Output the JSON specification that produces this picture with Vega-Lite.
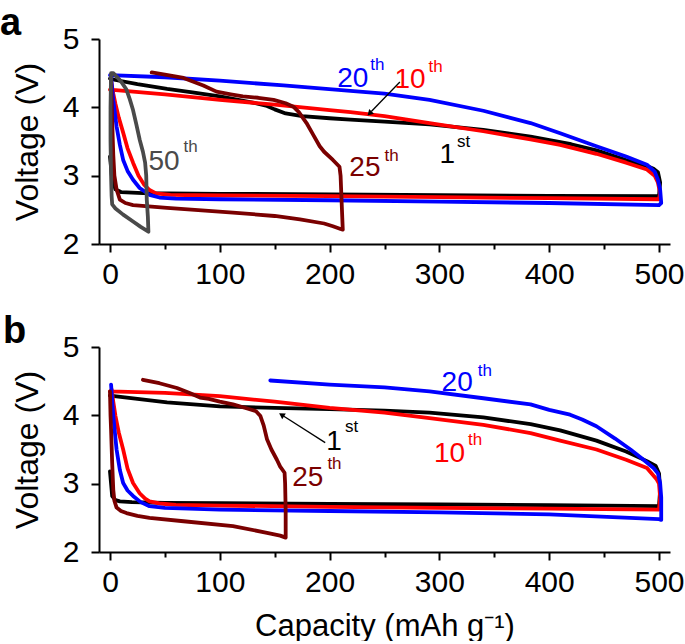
{
  "$schema": "https://vega.github.io/schema/vega-lite/v6.json",
  "background": "white",
  "padding": {"left": 0, "top": 5, "right": 0, "bottom": 0},
  "bounds": "flush",
  "spacing": 103,
  "config": {
    "view": {"stroke": null},
    "font": "Liberation Sans",
    "axis": {
      "grid": false, "domainColor": "black", "domainWidth": 2, "tickColor": "black", "tickWidth": 2,
      "labelFontSize": 30, "labelColor": "black", "labelFont": "Liberation Sans",
      "titleFontSize": 30, "titleFontWeight": "normal", "titleColor": "black", "titleFont": "Liberation Sans"
    }
  },
  "datasets": {
    "curvesA": [
      {"c":"1st","i":1,"x":0,"v":3.28},{"c":"1st","i":2,"x":2,"v":2.95},{"c":"1st","i":3,"x":5,"v":2.8},{"c":"1st","i":4,"x":10,"v":2.76},{"c":"1st","i":5,"x":30,"v":2.745},{"c":"1st","i":6,"x":100,"v":2.735},{"c":"1st","i":7,"x":200,"v":2.725},{"c":"1st","i":8,"x":300,"v":2.715},{"c":"1st","i":9,"x":400,"v":2.705},{"c":"1st","i":10,"x":500,"v":2.7},{"c":"1st","i":11,"x":501,"v":2.9},{"c":"1st","i":12,"x":499,"v":3.05},{"c":"1st","i":13,"x":495,"v":3.1},{"c":"1st","i":14,"x":489,"v":3.14},{"c":"1st","i":15,"x":470,"v":3.23},{"c":"1st","i":16,"x":443,"v":3.37},{"c":"1st","i":17,"x":420,"v":3.46},{"c":"1st","i":18,"x":383,"v":3.57},{"c":"1st","i":19,"x":340,"v":3.67},{"c":"1st","i":20,"x":291,"v":3.75},{"c":"1st","i":21,"x":250,"v":3.79},{"c":"1st","i":22,"x":219,"v":3.82},{"c":"1st","i":23,"x":200,"v":3.84},{"c":"1st","i":24,"x":175,"v":3.87},{"c":"1st","i":25,"x":160,"v":3.91},{"c":"1st","i":26,"x":150,"v":3.97},{"c":"1st","i":27,"x":143,"v":4.02},{"c":"1st","i":28,"x":130,"v":4.07},{"c":"1st","i":29,"x":100,"v":4.16},{"c":"1st","i":30,"x":75,"v":4.22},{"c":"1st","i":31,"x":52,"v":4.27},{"c":"1st","i":32,"x":25,"v":4.34},{"c":"1st","i":33,"x":5,"v":4.4},{"c":"1st","i":34,"x":0,"v":4.42},
      {"c":"10th","i":1,"x":1,"v":4.38},{"c":"10th","i":2,"x":3,"v":4.2},{"c":"10th","i":3,"x":5,"v":4.05},{"c":"10th","i":4,"x":8,"v":3.85},{"c":"10th","i":5,"x":12,"v":3.63},{"c":"10th","i":6,"x":16,"v":3.4},{"c":"10th","i":7,"x":21,"v":3.19},{"c":"10th","i":8,"x":26,"v":3.0},{"c":"10th","i":9,"x":31,"v":2.87},{"c":"10th","i":10,"x":36,"v":2.79},{"c":"10th","i":11,"x":42,"v":2.74},{"c":"10th","i":12,"x":55,"v":2.72},{"c":"10th","i":13,"x":100,"v":2.71},{"c":"10th","i":14,"x":200,"v":2.7},{"c":"10th","i":15,"x":300,"v":2.685},{"c":"10th","i":16,"x":400,"v":2.67},{"c":"10th","i":17,"x":500,"v":2.655},{"c":"10th","i":18,"x":501,"v":2.75},{"c":"10th","i":19,"x":499,"v":2.9},{"c":"10th","i":20,"x":496,"v":3.0},{"c":"10th","i":21,"x":489,"v":3.09},{"c":"10th","i":22,"x":470,"v":3.19},{"c":"10th","i":23,"x":443,"v":3.32},{"c":"10th","i":24,"x":410,"v":3.45},{"c":"10th","i":25,"x":383,"v":3.53},{"c":"10th","i":26,"x":340,"v":3.65},{"c":"10th","i":27,"x":291,"v":3.77},{"c":"10th","i":28,"x":250,"v":3.87},{"c":"10th","i":29,"x":219,"v":3.93},{"c":"10th","i":30,"x":200,"v":3.96},{"c":"10th","i":31,"x":150,"v":4.04},{"c":"10th","i":32,"x":100,"v":4.11},{"c":"10th","i":33,"x":50,"v":4.19},{"c":"10th","i":34,"x":0,"v":4.26},
      {"c":"20th","i":1,"x":1,"v":4.45},{"c":"20th","i":2,"x":3,"v":4.1},{"c":"20th","i":3,"x":6,"v":3.72},{"c":"20th","i":4,"x":9,"v":3.45},{"c":"20th","i":5,"x":12,"v":3.23},{"c":"20th","i":6,"x":16,"v":3.07},{"c":"20th","i":7,"x":21,"v":2.94},{"c":"20th","i":8,"x":27,"v":2.82},{"c":"20th","i":9,"x":36,"v":2.72},{"c":"20th","i":10,"x":45,"v":2.68},{"c":"20th","i":11,"x":60,"v":2.665},{"c":"20th","i":12,"x":100,"v":2.655},{"c":"20th","i":13,"x":200,"v":2.64},{"c":"20th","i":14,"x":300,"v":2.62},{"c":"20th","i":15,"x":400,"v":2.6},{"c":"20th","i":16,"x":500,"v":2.57},{"c":"20th","i":17,"x":502,"v":2.6},{"c":"20th","i":18,"x":501,"v":2.8},{"c":"20th","i":19,"x":499,"v":2.94},{"c":"20th","i":20,"x":496,"v":3.06},{"c":"20th","i":21,"x":489,"v":3.16},{"c":"20th","i":22,"x":470,"v":3.28},{"c":"20th","i":23,"x":443,"v":3.43},{"c":"20th","i":24,"x":410,"v":3.62},{"c":"20th","i":25,"x":383,"v":3.77},{"c":"20th","i":26,"x":340,"v":3.95},{"c":"20th","i":27,"x":291,"v":4.11},{"c":"20th","i":28,"x":250,"v":4.2},{"c":"20th","i":29,"x":219,"v":4.24},{"c":"20th","i":30,"x":158,"v":4.32},{"c":"20th","i":31,"x":100,"v":4.39},{"c":"20th","i":32,"x":50,"v":4.44},{"c":"20th","i":33,"x":0,"v":4.47},
      {"c":"25th","i":1,"x":1,"v":4.4},{"c":"25th","i":2,"x":2,"v":3.8},{"c":"25th","i":3,"x":3,"v":3.3},{"c":"25th","i":4,"x":4,"v":3.0},{"c":"25th","i":5,"x":6,"v":2.8},{"c":"25th","i":6,"x":9,"v":2.65},{"c":"25th","i":7,"x":14,"v":2.6},{"c":"25th","i":8,"x":21,"v":2.57},{"c":"25th","i":9,"x":52,"v":2.53},{"c":"25th","i":10,"x":112,"v":2.46},{"c":"25th","i":11,"x":150,"v":2.41},{"c":"25th","i":12,"x":173,"v":2.36},{"c":"25th","i":13,"x":195,"v":2.3},{"c":"25th","i":14,"x":203,"v":2.26},{"c":"25th","i":15,"x":210,"v":2.22},{"c":"25th","i":16,"x":212,"v":2.21},{"c":"25th","i":17,"x":211,"v":2.6},{"c":"25th","i":18,"x":210,"v":3.0},{"c":"25th","i":19,"x":209,"v":3.13},{"c":"25th","i":20,"x":203,"v":3.23},{"c":"25th","i":21,"x":195,"v":3.35},{"c":"25th","i":22,"x":191,"v":3.43},{"c":"25th","i":23,"x":185,"v":3.6},{"c":"25th","i":24,"x":179,"v":3.77},{"c":"25th","i":25,"x":172,"v":3.93},{"c":"25th","i":26,"x":167,"v":4.01},{"c":"25th","i":27,"x":160,"v":4.06},{"c":"25th","i":28,"x":149,"v":4.11},{"c":"25th","i":29,"x":135,"v":4.14},{"c":"25th","i":30,"x":121,"v":4.16},{"c":"25th","i":31,"x":110,"v":4.19},{"c":"25th","i":32,"x":97,"v":4.23},{"c":"25th","i":33,"x":85,"v":4.32},{"c":"25th","i":34,"x":67,"v":4.43},{"c":"25th","i":35,"x":50,"v":4.48},{"c":"25th","i":36,"x":38,"v":4.51},
      {"c":"50th","i":1,"x":1,"v":4.5},{"c":"50th","i":2,"x":0.5,"v":4.0},{"c":"50th","i":3,"x":0.5,"v":3.5},{"c":"50th","i":4,"x":1,"v":3.0},{"c":"50th","i":5,"x":1.5,"v":2.7},{"c":"50th","i":6,"x":2,"v":2.58},{"c":"50th","i":7,"x":5,"v":2.52},{"c":"50th","i":8,"x":12,"v":2.43},{"c":"50th","i":9,"x":21,"v":2.33},{"c":"50th","i":10,"x":28,"v":2.25},{"c":"50th","i":11,"x":35,"v":2.18},{"c":"50th","i":12,"x":34.5,"v":2.4},{"c":"50th","i":13,"x":33.5,"v":2.65},{"c":"50th","i":14,"x":33,"v":3.0},{"c":"50th","i":15,"x":32,"v":3.19},{"c":"50th","i":16,"x":30,"v":3.35},{"c":"50th","i":17,"x":27,"v":3.53},{"c":"50th","i":18,"x":24,"v":3.75},{"c":"50th","i":19,"x":21,"v":3.96},{"c":"50th","i":20,"x":18,"v":4.12},{"c":"50th","i":21,"x":15,"v":4.26},{"c":"50th","i":22,"x":10,"v":4.38},{"c":"50th","i":23,"x":6,"v":4.45},{"c":"50th","i":24,"x":3,"v":4.5},{"c":"50th","i":25,"x":1,"v":4.5}
    ],
    "curvesB": [
      {"c":"1st","i":1,"x":0,"v":3.18},{"c":"1st","i":2,"x":1,"v":3.0},{"c":"1st","i":3,"x":2,"v":2.82},{"c":"1st","i":4,"x":5,"v":2.76},{"c":"1st","i":5,"x":9,"v":2.74},{"c":"1st","i":6,"x":20,"v":2.73},{"c":"1st","i":7,"x":50,"v":2.72},{"c":"1st","i":8,"x":100,"v":2.715},{"c":"1st","i":9,"x":200,"v":2.705},{"c":"1st","i":10,"x":300,"v":2.695},{"c":"1st","i":11,"x":400,"v":2.685},{"c":"1st","i":12,"x":500,"v":2.67},{"c":"1st","i":13,"x":501,"v":2.9},{"c":"1st","i":14,"x":500,"v":3.15},{"c":"1st","i":15,"x":497,"v":3.26},{"c":"1st","i":16,"x":489,"v":3.33},{"c":"1st","i":17,"x":470,"v":3.47},{"c":"1st","i":18,"x":443,"v":3.63},{"c":"1st","i":19,"x":410,"v":3.78},{"c":"1st","i":20,"x":383,"v":3.87},{"c":"1st","i":21,"x":340,"v":3.97},{"c":"1st","i":22,"x":291,"v":4.04},{"c":"1st","i":23,"x":250,"v":4.07},{"c":"1st","i":24,"x":200,"v":4.09},{"c":"1st","i":25,"x":150,"v":4.11},{"c":"1st","i":26,"x":100,"v":4.13},{"c":"1st","i":27,"x":52,"v":4.19},{"c":"1st","i":28,"x":25,"v":4.24},{"c":"1st","i":29,"x":0,"v":4.29},
      {"c":"10th","i":1,"x":1.5,"v":4.38},{"c":"10th","i":2,"x":3,"v":4.2},{"c":"10th","i":3,"x":5,"v":3.99},{"c":"10th","i":4,"x":8,"v":3.75},{"c":"10th","i":5,"x":12,"v":3.5},{"c":"10th","i":6,"x":16,"v":3.22},{"c":"10th","i":7,"x":21,"v":3.01},{"c":"10th","i":8,"x":27,"v":2.86},{"c":"10th","i":9,"x":32,"v":2.78},{"c":"10th","i":10,"x":36,"v":2.74},{"c":"10th","i":11,"x":45,"v":2.71},{"c":"10th","i":12,"x":60,"v":2.69},{"c":"10th","i":13,"x":100,"v":2.68},{"c":"10th","i":14,"x":200,"v":2.66},{"c":"10th","i":15,"x":300,"v":2.645},{"c":"10th","i":16,"x":400,"v":2.635},{"c":"10th","i":17,"x":500,"v":2.62},{"c":"10th","i":18,"x":501,"v":2.8},{"c":"10th","i":19,"x":500,"v":3.0},{"c":"10th","i":20,"x":498,"v":3.06},{"c":"10th","i":21,"x":489,"v":3.23},{"c":"10th","i":22,"x":470,"v":3.35},{"c":"10th","i":23,"x":443,"v":3.5},{"c":"10th","i":24,"x":410,"v":3.63},{"c":"10th","i":25,"x":383,"v":3.74},{"c":"10th","i":26,"x":340,"v":3.86},{"c":"10th","i":27,"x":291,"v":3.96},{"c":"10th","i":28,"x":250,"v":4.04},{"c":"10th","i":29,"x":200,"v":4.11},{"c":"10th","i":30,"x":150,"v":4.2},{"c":"10th","i":31,"x":100,"v":4.28},{"c":"10th","i":32,"x":50,"v":4.33},{"c":"10th","i":33,"x":0,"v":4.35},
      {"c":"20th","i":1,"x":1,"v":4.45},{"c":"20th","i":2,"x":3,"v":3.99},{"c":"20th","i":3,"x":6,"v":3.5},{"c":"20th","i":4,"x":9,"v":3.2},{"c":"20th","i":5,"x":12,"v":3.01},{"c":"20th","i":6,"x":16,"v":2.9},{"c":"20th","i":7,"x":21,"v":2.82},{"c":"20th","i":8,"x":28,"v":2.73},{"c":"20th","i":9,"x":36,"v":2.67},{"c":"20th","i":10,"x":50,"v":2.645},{"c":"20th","i":11,"x":100,"v":2.62},{"c":"20th","i":12,"x":200,"v":2.6},{"c":"20th","i":13,"x":300,"v":2.58},{"c":"20th","i":14,"x":400,"v":2.55},{"c":"20th","i":15,"x":500,"v":2.48},{"c":"20th","i":16,"x":502,"v":2.47},{"c":"20th","i":17,"x":502,"v":2.8},{"c":"20th","i":18,"x":501,"v":3.01},{"c":"20th","i":19,"x":499,"v":3.15},{"c":"20th","i":20,"x":495,"v":3.23},{"c":"20th","i":21,"x":485,"v":3.36},{"c":"20th","i":22,"x":474,"v":3.5},{"c":"20th","i":23,"x":460,"v":3.66},{"c":"20th","i":24,"x":443,"v":3.84},{"c":"20th","i":25,"x":430,"v":3.94},{"c":"20th","i":26,"x":419,"v":4.01},{"c":"20th","i":27,"x":400,"v":4.08},{"c":"20th","i":28,"x":383,"v":4.16},{"c":"20th","i":29,"x":340,"v":4.25},{"c":"20th","i":30,"x":291,"v":4.35},{"c":"20th","i":31,"x":250,"v":4.41},{"c":"20th","i":32,"x":200,"v":4.45},{"c":"20th","i":33,"x":146,"v":4.51},
      {"c":"25th","i":1,"x":0,"v":4.35},{"c":"25th","i":2,"x":0.5,"v":4.0},{"c":"25th","i":3,"x":1,"v":3.79},{"c":"25th","i":4,"x":2,"v":3.3},{"c":"25th","i":5,"x":3,"v":2.91},{"c":"25th","i":6,"x":4,"v":2.75},{"c":"25th","i":7,"x":6,"v":2.65},{"c":"25th","i":8,"x":10,"v":2.6},{"c":"25th","i":9,"x":15,"v":2.57},{"c":"25th","i":10,"x":25,"v":2.53},{"c":"25th","i":11,"x":36,"v":2.5},{"c":"25th","i":12,"x":67,"v":2.45},{"c":"25th","i":13,"x":112,"v":2.38},{"c":"25th","i":14,"x":143,"v":2.28},{"c":"25th","i":15,"x":155,"v":2.24},{"c":"25th","i":16,"x":160,"v":2.21},{"c":"25th","i":17,"x":160,"v":2.6},{"c":"25th","i":18,"x":159.5,"v":3.0},{"c":"25th","i":19,"x":159,"v":3.16},{"c":"25th","i":20,"x":155,"v":3.25},{"c":"25th","i":21,"x":152,"v":3.35},{"c":"25th","i":22,"x":147,"v":3.5},{"c":"25th","i":23,"x":143,"v":3.65},{"c":"25th","i":24,"x":140,"v":3.85},{"c":"25th","i":25,"x":137,"v":3.99},{"c":"25th","i":26,"x":133,"v":4.06},{"c":"25th","i":27,"x":125,"v":4.1},{"c":"25th","i":28,"x":112,"v":4.16},{"c":"25th","i":29,"x":100,"v":4.2},{"c":"25th","i":30,"x":90,"v":4.24},{"c":"25th","i":31,"x":82,"v":4.26},{"c":"25th","i":32,"x":72,"v":4.33},{"c":"25th","i":33,"x":61,"v":4.4},{"c":"25th","i":34,"x":45,"v":4.47},{"c":"25th","i":35,"x":30,"v":4.52}
    ],
    "labA": [
      {"c":"20th","x":207,"v":4.3,"t":"20"},{"c":"10th","x":259,"v":4.29,"t":"10"},{"c":"1st","x":300,"v":3.19,"t":"1"},{"c":"25th","x":218,"v":2.99,"t":"25"},{"c":"50th","x":35,"v":3.09,"t":"50"}
    ],
    "supA": [
      {"c":"20th","x":237,"v":4.55,"t":"th"},{"c":"10th","x":290,"v":4.52,"t":"th"},{"c":"1st","x":316,"v":3.42,"t":"st"},{"c":"25th","x":250,"v":3.21,"t":"th"},{"c":"50th","x":67,"v":3.34,"t":"th"}
    ],
    "labB": [
      {"c":"20th","x":302,"v":4.35,"t":"20"},{"c":"10th","x":295,"v":3.32,"t":"10"},{"c":"1st","x":197,"v":3.5,"t":"1"},{"c":"25th","x":166,"v":2.96,"t":"25"}
    ],
    "supB": [
      {"c":"20th","x":335,"v":4.57,"t":"th"},{"c":"10th","x":326,"v":3.57,"t":"th"},{"c":"1st","x":214,"v":3.75,"t":"st"},{"c":"25th","x":198,"v":3.21,"t":"th"}
    ],
    "arrA": [{"x":264,"v":4.37,"x2":238,"v2":3.94}],
    "tipA": [{"x":237,"v":3.92}],
    "arrB": [{"x":196,"v":3.6,"x2":158,"v2":3.99}],
    "tipB": [{"x":157,"v":4.0}]
  },
  "vconcat": [
    {
      "width": 571, "height": 205,
      "title": {"text": "a", "anchor": "start", "frame": "group", "fontSize": 38, "fontWeight": "bold", "font": "Liberation Sans", "color": "black", "dx": -99, "dy": 49, "offset": 0, "baseline": "alphabetic"},
      "layer": [
        {
          "data": {"name": "curvesA"},
          "mark": {"type": "line", "strokeJoin": "round", "strokeCap": "round"},
          "encoding": {
            "x": {"field": "x", "type": "quantitative", "scale": {"domain": [-10, 510], "nice": false, "zero": false}, "axis": {"orient": "bottom", "values": [0,50,100,150,200,250,300,350,400,450,500], "labelExpr": "datum.value % 100 === 0 ? format(datum.value, 'd') : ''", "tickSize": {"condition": {"test": "datum.value % 100 !== 0", "value": 5}, "value": 8}, "title": null, "labelPadding": 7}},
            "y": {"field": "v", "type": "quantitative", "scale": {"domain": [2, 5], "nice": false, "zero": false}, "axis": {"orient": "left", "values": [2,2.5,3,3.5,4,4.5,5], "labelExpr": "datum.value % 1 === 0 ? format(datum.value, 'd') : ''", "tickSize": {"condition": {"test": "datum.value % 1 !== 0", "value": 5}, "value": 8}, "title": "Voltage (V)", "titleFontSize": 32, "labelPadding": 12, "titlePadding": 18}},
            "color": {"field": "c", "type": "nominal", "scale": {"domain": ["1st","10th","20th","25th","50th"], "range": ["#000000","#ff0000","#0000ff","#7a0000","#4a4a4a"]}, "legend": null},
            "strokeWidth": {"field": "c", "type": "nominal", "scale": {"domain": ["1st","10th","20th","25th","50th"], "range": [3.8,3.8,3.8,3.8,4.8]}, "legend": null},
            "order": {"field": "i"}
          }
        },
        {
          "data": {"name": "labA"},
          "mark": {"type": "text", "fontSize": 28, "align": "left", "baseline": "alphabetic", "font": "Liberation Sans"},
          "encoding": {
            "x": {"field": "x", "type": "quantitative", "scale": {"domain": [-10, 510], "nice": false, "zero": false}},
            "y": {"field": "v", "type": "quantitative", "scale": {"domain": [2, 5], "nice": false, "zero": false}},
            "text": {"field": "t"},
            "color": {"field": "c", "type": "nominal", "scale": {"domain": ["1st","10th","20th","25th","50th"], "range": ["#000000","#ff0000","#0000ff","#7a0000","#4a4a4a"]}, "legend": null}
          }
        },
        {
          "data": {"name": "supA"},
          "mark": {"type": "text", "fontSize": 17, "align": "left", "baseline": "alphabetic", "font": "Liberation Sans"},
          "encoding": {
            "x": {"field": "x", "type": "quantitative", "scale": {"domain": [-10, 510], "nice": false, "zero": false}},
            "y": {"field": "v", "type": "quantitative", "scale": {"domain": [2, 5], "nice": false, "zero": false}},
            "text": {"field": "t"},
            "color": {"field": "c", "type": "nominal", "scale": {"domain": ["1st","10th","20th","25th","50th"], "range": ["#000000","#ff0000","#0000ff","#7a0000","#4a4a4a"]}, "legend": null}
          }
        },
        {
          "data": {"name": "arrA"},
          "mark": {"type": "rule", "color": "black", "strokeWidth": 1.3},
          "encoding": {
            "x": {"field": "x", "type": "quantitative", "scale": {"domain": [-10, 510], "nice": false, "zero": false}},
            "y": {"field": "v", "type": "quantitative", "scale": {"domain": [2, 5], "nice": false, "zero": false}},
            "x2": {"field": "x2"},
            "y2": {"field": "v2"}
          }
        },
        {
          "data": {"name": "tipA"},
          "mark": {"type": "point", "shape": "triangle", "filled": true, "color": "black", "opacity": 1, "size": 45, "angle": 224},
          "encoding": {
            "x": {"field": "x", "type": "quantitative", "scale": {"domain": [-10, 510], "nice": false, "zero": false}},
            "y": {"field": "v", "type": "quantitative", "scale": {"domain": [2, 5], "nice": false, "zero": false}}
          }
        }
      ]
    },
    {
      "width": 571, "height": 205,
      "title": {"text": "b", "anchor": "start", "frame": "group", "fontSize": 38, "fontWeight": "bold", "font": "Liberation Sans", "color": "black", "dx": -96, "dy": 49, "offset": 0, "baseline": "alphabetic"},
      "layer": [
        {
          "data": {"name": "curvesB"},
          "mark": {"type": "line", "strokeJoin": "round", "strokeCap": "round"},
          "encoding": {
            "x": {"field": "x", "type": "quantitative", "scale": {"domain": [-10, 510], "nice": false, "zero": false}, "axis": {"orient": "bottom", "values": [0,50,100,150,200,250,300,350,400,450,500], "labelExpr": "datum.value % 100 === 0 ? format(datum.value, 'd') : ''", "tickSize": {"condition": {"test": "datum.value % 100 !== 0", "value": 5}, "value": 8}, "title": "Capacity (mAh g⁻¹)", "titleFontSize": 31, "labelPadding": 7, "titlePadding": 14}},
            "y": {"field": "v", "type": "quantitative", "scale": {"domain": [2, 5], "nice": false, "zero": false}, "axis": {"orient": "left", "values": [2,2.5,3,3.5,4,4.5,5], "labelExpr": "datum.value % 1 === 0 ? format(datum.value, 'd') : ''", "tickSize": {"condition": {"test": "datum.value % 1 !== 0", "value": 5}, "value": 8}, "title": "Voltage (V)", "titleFontSize": 32, "labelPadding": 12, "titlePadding": 18}},
            "color": {"field": "c", "type": "nominal", "scale": {"domain": ["1st","10th","20th","25th","50th"], "range": ["#000000","#ff0000","#0000ff","#7a0000","#4a4a4a"]}, "legend": null},
            "strokeWidth": {"field": "c", "type": "nominal", "scale": {"domain": ["1st","10th","20th","25th","50th"], "range": [3.8,3.8,3.8,3.8,4.8]}, "legend": null},
            "order": {"field": "i"}
          }
        },
        {
          "data": {"name": "labB"},
          "mark": {"type": "text", "fontSize": 28, "align": "left", "baseline": "alphabetic", "font": "Liberation Sans"},
          "encoding": {
            "x": {"field": "x", "type": "quantitative", "scale": {"domain": [-10, 510], "nice": false, "zero": false}},
            "y": {"field": "v", "type": "quantitative", "scale": {"domain": [2, 5], "nice": false, "zero": false}},
            "text": {"field": "t"},
            "color": {"field": "c", "type": "nominal", "scale": {"domain": ["1st","10th","20th","25th","50th"], "range": ["#000000","#ff0000","#0000ff","#7a0000","#4a4a4a"]}, "legend": null}
          }
        },
        {
          "data": {"name": "supB"},
          "mark": {"type": "text", "fontSize": 17, "align": "left", "baseline": "alphabetic", "font": "Liberation Sans"},
          "encoding": {
            "x": {"field": "x", "type": "quantitative", "scale": {"domain": [-10, 510], "nice": false, "zero": false}},
            "y": {"field": "v", "type": "quantitative", "scale": {"domain": [2, 5], "nice": false, "zero": false}},
            "text": {"field": "t"},
            "color": {"field": "c", "type": "nominal", "scale": {"domain": ["1st","10th","20th","25th","50th"], "range": ["#000000","#ff0000","#0000ff","#7a0000","#4a4a4a"]}, "legend": null}
          }
        },
        {
          "data": {"name": "arrB"},
          "mark": {"type": "rule", "color": "black", "strokeWidth": 1.3},
          "encoding": {
            "x": {"field": "x", "type": "quantitative", "scale": {"domain": [-10, 510], "nice": false, "zero": false}},
            "y": {"field": "v", "type": "quantitative", "scale": {"domain": [2, 5], "nice": false, "zero": false}},
            "x2": {"field": "x2"},
            "y2": {"field": "v2"}
          }
        },
        {
          "data": {"name": "tipB"},
          "mark": {"type": "point", "shape": "triangle", "filled": true, "color": "black", "opacity": 1, "size": 45, "angle": 302},
          "encoding": {
            "x": {"field": "x", "type": "quantitative", "scale": {"domain": [-10, 510], "nice": false, "zero": false}},
            "y": {"field": "v", "type": "quantitative", "scale": {"domain": [2, 5], "nice": false, "zero": false}}
          }
        }
      ]
    }
  ]
}
